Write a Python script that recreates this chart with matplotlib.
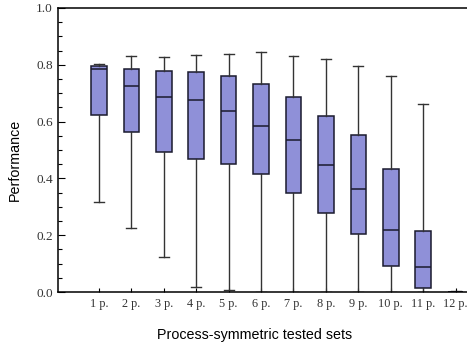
import matplotlib
matplotlib.use("Agg")
import matplotlib.pyplot as plt
from matplotlib.ticker import MultipleLocator

labels = ["1 p.", "2 p.", "3 p.", "4 p.", "5 p.", "6 p.", "7 p.", "8 p.", "9 p.", "10 p.", "11 p.", "12 p."]
whislo = [0.318, 0.224, 0.124, 0.016, 0.006, 0.0, 0.0, 0.0, 0.0, 0.0, 0.0, 0.0]
q1 = [0.622, 0.562, 0.494, 0.467, 0.451, 0.415, 0.350, 0.279, 0.203, 0.093, 0.013, 0.0]
med = [0.785, 0.724, 0.687, 0.676, 0.638, 0.583, 0.534, 0.446, 0.362, 0.219, 0.088, 0.0]
q3 = [0.795, 0.784, 0.779, 0.773, 0.761, 0.731, 0.688, 0.619, 0.554, 0.434, 0.214, 0.0]
whishi = [0.802, 0.831, 0.829, 0.833, 0.837, 0.846, 0.831, 0.822, 0.797, 0.762, 0.663, 0.004]

stats = []
for i in range(len(labels)):
    stats.append(dict(label=labels[i], whislo=whislo[i], q1=q1[i], med=med[i],
                      q3=q3[i], whishi=whishi[i], fliers=[]))

fig = plt.figure(figsize=(4.67, 3.47), dpi=100)
ax = fig.add_axes([0.125, 0.1585, 0.875, 0.8185])

ax.bxp(stats, positions=range(1, 13), widths=0.48, patch_artist=True, showfliers=False,
       boxprops=dict(facecolor="#8f90d8", edgecolor="#1a1a2e", linewidth=1.1),
       medianprops=dict(color="#1a1a2e", linewidth=1.1),
       whiskerprops=dict(color="#333333", linewidth=1.0),
       capprops=dict(color="#333333", linewidth=1.0),
       capwidths=0.3)

ax.set_xlim(-0.25, 12.35)
ax.set_ylim(0, 1.0)
ax.spines["right"].set_visible(False)
for s in ["left", "top", "bottom"]:
    ax.spines[s].set_linewidth(1.1)

ax.yaxis.set_minor_locator(MultipleLocator(0.05))
ax.tick_params(axis="y", which="major", direction="in", length=5, width=0.8, pad=4)
ax.tick_params(axis="y", which="minor", direction="in", length=3, width=0.8)
ax.tick_params(axis="x", direction="in", length=3, width=0.8, pad=4)
ax.set_xticks(range(1, 13))
ax.set_xticklabels(labels, fontfamily="Liberation Serif", fontsize=8.8, color="#333333")
ax.set_yticks([0, 0.2, 0.4, 0.6, 0.8, 1.0])
ax.set_yticklabels(["0.0", "0.2", "0.4", "0.6", "0.8", "1.0"], fontfamily="Liberation Serif",
                   fontsize=9.5, color="#333333")

ax.set_ylabel("Performance", fontfamily="Liberation Sans", fontsize=10.3, va="center")
ax.set_xlabel("Process-symmetric tested sets", fontfamily="Liberation Sans", fontsize=10.3, va="center")
ax.yaxis.set_label_coords(-0.106, 0.465)
ax.xaxis.set_label_coords(0.481, -0.151)

fig.savefig("out.png", dpi=100)
